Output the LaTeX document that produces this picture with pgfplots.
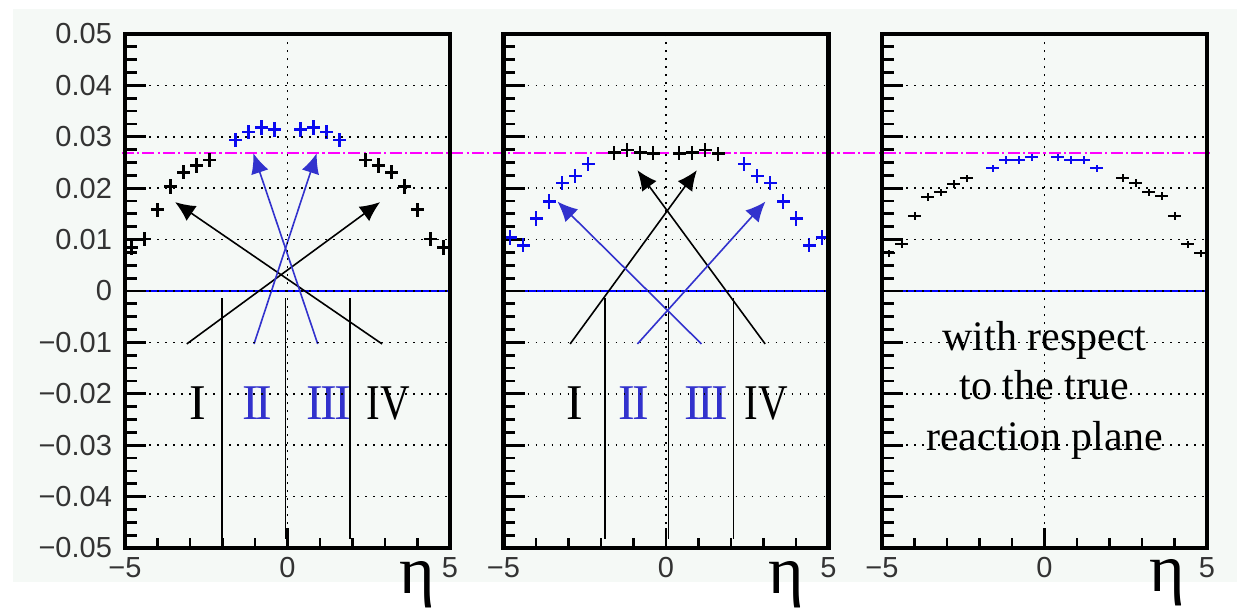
\documentclass[border=0pt]{standalone}
\usepackage{fontspec}
\setmainfont{Liberation Serif}
\newfontfamily\ticksans{Liberation Sans}
\usepackage{graphicx}
\usepackage{pgfplots}
\pgfplotsset{compat=1.18}
\usetikzlibrary{arrows.meta}

\definecolor{bgpanel}{RGB}{245,249,246}
\definecolor{markblue}{RGB}{10,10,240}
\definecolor{arrowblue}{RGB}{50,50,205}
\definecolor{refmag}{RGB}{255,0,255}

% Roman numerals with touching serifs
\newcommand{\rII}{I\kern-0.055em I}
\newcommand{\rIII}{I\kern-0.055em I\kern-0.055em I}

\tikzset{
  cut/.style={black, line width=0.8pt},
  arr/.style={line width=0.8pt, -{Latex[length=10pt,width=9pt]}},
  roman/.style={font=\fontsize{25}{25}\selectfont, inner sep=0pt},
  tickline/.style={draw=black, line width=1.4pt},
}

% inward tick marks along the left and bottom frame (lengths in data units:
% 1 unit of eta = 16.25pt, 0.01 in y = 25.7pt)
\newcommand{\paneticks}{%
  \pgfplotsinvokeforeach{-0.04,-0.03,-0.02,-0.01,0,0.01,0.02,0.03,0.04}{%
    \draw[tickline] (axis cs:-5,##1) -- (axis cs:-4.354,##1);}%
  \pgfplotsinvokeforeach{-0.0475,-0.045,-0.0425,-0.0375,-0.035,-0.0325,
      -0.0275,-0.025,-0.0225,-0.0175,-0.015,-0.0125,
      -0.0075,-0.005,-0.0025,0.0025,0.005,0.0075,
      0.0125,0.015,0.0175,0.0225,0.025,0.0275,
      0.0325,0.035,0.0375,0.0425,0.045,0.0475}{%
    \draw[tickline] (axis cs:-5,##1) -- (axis cs:-4.643,##1);}%
  \pgfplotsinvokeforeach{-4,-3,-2,-1,1,2,3,4}{%
    \draw[tickline] (axis cs:##1,-0.05) -- (axis cs:##1,-0.04813);}%
  \draw[tickline] (axis cs:0,-0.05) -- (axis cs:0,-0.04611);%
}

\pgfplotsset{
  etapanel/.style={
    scale only axis, width=162.5pt, height=257pt,
    anchor=south west,
    xmin=-5, xmax=5, ymin=-0.05, ymax=0.05,
    scaled y ticks=false,
    axis on top,
    axis line style={line width=2.4pt},
    tick pos=left, tick align=inside,
    xtick={-5,0,5},
    xticklabels={−5,0,5},
    ytick={-0.05,-0.04,-0.03,-0.02,-0.01,0,0.01,0.02,0.03,0.04,0.05},
    major tick length=0pt,
    xmajorgrids, ymajorgrids,
    major grid style={black, line width=0.8pt, dash pattern=on 0.8pt off 3.2pt},
    ticklabel style={font=\ticksans\fontsize{14.5}{14.5}\selectfont, text=black!80},
    xticklabel style={yshift=-1pt},
    yticklabel style={xshift=-3pt},
    clip=false,
  },
  bins/.style n args={3}{color=#1, only marks,
    mark options={draw opacity=0, fill opacity=0},
    error bars/.cd, x dir=both, x fixed=0.2, y dir=both, y fixed=#2,
    error mark=none, error bar style={color=#1, line width=#3}},
  zeroline/.style={blue, line width=0.9pt},
}

\begin{document}
\begin{tikzpicture}[x=1pt,y=1pt]
\path[use as bounding box] (0,0) rectangle (618.5,306);
\fill[bgpanel] (6.5,15) rectangle (618.5,301.5);

% ---------- left panel ----------
\begin{axis}[etapanel, at={(62.5pt,32pt)},
  yticklabels={−0.05,−0.04,−0.03,−0.02,−0.01,0,0.01,0.02,0.03,0.04,0.05}]
  % reference level, running across all three panels
  \draw[refmag, line width=1.1pt, dash pattern=on 6pt off 1.6pt on 1.1pt off 1.6pt]
    (axis cs:-5.1,0.0268) -- (axis cs:28.38,0.0268);
  \addplot[zeroline] coordinates {(-5,0) (5,0)};
  \paneticks
  \draw[cut] (axis cs:-2.02,-0.0014) -- (axis cs:-2.02,-0.0482);
  \draw[cut] (axis cs:-0.06,-0.0014) -- (axis cs:-0.06,-0.0482);
  \draw[cut] (axis cs:1.92,-0.0014) -- (axis cs:1.92,-0.0482);
  \draw[arr, black] (axis cs:-3.1,-0.0103) -- (axis cs:2.85,0.0173);
  \draw[arr, black] (axis cs:2.91,-0.0103) -- (axis cs:-3.46,0.0173);
  \draw[arr, arrowblue] (axis cs:-1.03,-0.0103) -- (axis cs:0.9,0.0268);
  \draw[arr, arrowblue] (axis cs:0.93,-0.0103) -- (axis cs:-1.05,0.0268);
  \addplot[bins={black}{0.0014}{1.3pt}] coordinates {
    (-4.8,0.0085) (-4.4,0.0101) (-4.0,0.0158) (-3.6,0.0203) (-3.2,0.0231)
    (-2.8,0.0244) (-2.4,0.0255) (2.4,0.0255) (2.8,0.0244) (3.2,0.0231)
    (3.6,0.0203) (4.0,0.0158) (4.4,0.0101) (4.8,0.0085)};
  \addplot[bins={markblue}{0.0014}{1.3pt}] coordinates {
    (-1.6,0.0294) (-1.2,0.0309) (-0.8,0.0318) (-0.4,0.0314)
    (0.4,0.0314) (0.8,0.0318) (1.2,0.0309) (1.6,0.0294)};
  \node[roman] at (axis cs:-2.77,-0.0219) {I};
  \node[roman, text=arrowblue] at (axis cs:-0.93,-0.0219) {\rII};
  \node[roman, text=arrowblue] at (axis cs:1.27,-0.0219) {\rIII};
  \node[roman] at (axis cs:3.1,-0.0219) {\scalebox{0.82}[1]{IV}};
\end{axis}

% ---------- middle panel ----------
\begin{axis}[etapanel, at={(251.75pt,32pt)}, yticklabels={}]
  \addplot[zeroline] coordinates {(-5,0) (5,0)};
  \paneticks
  \draw[cut] (axis cs:-1.87,-0.0014) -- (axis cs:-1.87,-0.0482);
  \draw[cut] (axis cs:0.08,-0.0014) -- (axis cs:0.08,-0.0482);
  \draw[cut] (axis cs:2.08,-0.0014) -- (axis cs:2.08,-0.0482);
  \draw[arr, black] (axis cs:-2.95,-0.0103) -- (axis cs:0.95,0.0235);
  \draw[arr, black] (axis cs:3.05,-0.0103) -- (axis cs:-0.88,0.0235);
  \draw[arr, arrowblue] (axis cs:-0.88,-0.0103) -- (axis cs:3.06,0.0174);
  \draw[arr, arrowblue] (axis cs:1.09,-0.0103) -- (axis cs:-3.34,0.0174);
  \addplot[bins={markblue}{0.0014}{1.3pt}] coordinates {
    (-4.8,0.0104) (-4.4,0.0089) (-4.0,0.0141) (-3.6,0.0174) (-3.2,0.0210)
    (-2.8,0.0224) (-2.4,0.0247) (2.4,0.0247) (2.8,0.0224) (3.2,0.0210)
    (3.6,0.0174) (4.0,0.0141) (4.4,0.0089) (4.8,0.0104)};
  \addplot[bins={black}{0.0014}{1.3pt}] coordinates {
    (-1.6,0.0269) (-1.2,0.0274) (-0.8,0.0269) (-0.4,0.0268)
    (0.4,0.0268) (0.8,0.0269) (1.2,0.0274) (1.6,0.0267)};
  \node[roman] at (axis cs:-2.8,-0.0219) {I};
  \node[roman, text=arrowblue] at (axis cs:-0.98,-0.0219) {\rII};
  \node[roman, text=arrowblue] at (axis cs:1.24,-0.0219) {\rIII};
  \node[roman] at (axis cs:3.09,-0.0219) {\scalebox{0.82}[1]{IV}};
\end{axis}

% ---------- right panel ----------
\begin{axis}[etapanel, at={(441pt,32pt)}, yticklabels={}]
  \addplot[zeroline] coordinates {(-5,0) (5,0)};
  \paneticks
  \addplot[bins={black}{0.0007}{1pt}] coordinates {
    (-4.8,0.0073) (-4.4,0.0091) (-4.0,0.0146) (-3.6,0.0183) (-3.2,0.0192)
    (-2.8,0.0208) (-2.4,0.0219) (2.4,0.0220) (2.8,0.0210) (3.2,0.0192)
    (3.6,0.0185) (4.0,0.0146) (4.4,0.0091) (4.8,0.0073)};
  \addplot[bins={markblue}{0.0007}{1pt}] coordinates {
    (-1.6,0.0239) (-1.2,0.0255) (-0.8,0.0255) (-0.4,0.0260)
    (0.4,0.0260) (0.8,0.0255) (1.2,0.0255) (1.6,0.0239)};
  \node[anchor=base, font=\fontsize{21}{21}\selectfont] at (axis cs:0,-0.0115) {with respect};
  \node[anchor=base, font=\fontsize{21}{21}\selectfont] at (axis cs:0,-0.0212) {to the true};
  \node[anchor=base, font=\fontsize{21}{21}\selectfont] at (axis cs:0,-0.0311) {reaction plane};
\end{axis}

% axis titles
\node[font=\fontsize{34}{34}\selectfont, inner sep=0pt] at (208.75,13.5) {η};
\node[font=\fontsize{34}{34}\selectfont, inner sep=0pt] at (393,13.5) {η};
\node[font=\fontsize{34}{34}\selectfont, inner sep=0pt] at (583.5,14.5) {η};
\end{tikzpicture}
\end{document}
